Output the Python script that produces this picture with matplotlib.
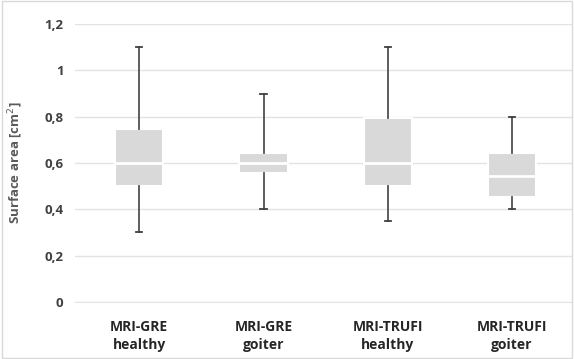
import matplotlib.pyplot as plt

plt.rcParams['font.family'] = ['Open Sans', 'DejaVu Sans']

labels = ["MRI-GRE\nhealthy", "MRI-GRE\ngoiter", "MRI-TRUFI\nhealthy", "MRI-TRUFI\ngoiter"]
whisker_low = [0.30, 0.40, 0.35, 0.40]
q1 = [0.50, 0.555, 0.50, 0.455]
median = [0.60, 0.60, 0.60, 0.545]
q3 = [0.745, 0.645, 0.795, 0.645]
whisker_high = [1.10, 0.90, 1.10, 0.80]

stats = []
for i in range(len(labels)):
    stats.append(dict(whislo=whisker_low[i], q1=q1[i], med=median[i],
                      q3=q3[i], whishi=whisker_high[i], label=labels[i]))

fig = plt.figure(figsize=(5.74, 3.59), dpi=100)
fig.patches.append(plt.Rectangle((0.004, 0.004), 0.992, 0.992, transform=fig.transFigure,
                                 fill=False, edgecolor="#d9d9d9", linewidth=1))
ax = fig.add_axes([0.13, 0.159, 0.866, 0.774])

ax.bxp(stats, positions=range(4), widths=0.39, patch_artist=True, showfliers=False,
       boxprops=dict(facecolor="#d9d9d9", edgecolor="white", linewidth=1.5),
       medianprops=dict(color="white", linewidth=2),
       whiskerprops=dict(color="#505050", linewidth=1.3),
       capprops=dict(color="#404040", linewidth=1.3), capwidths=0.05)

ax.set_xlim(-0.52, 3.48)
ax.set_ylim(0, 1.2)
ax.set_yticks([0, 0.2, 0.4, 0.6, 0.8, 1.0, 1.2])
ax.set_yticklabels(["0", "0,2", "0,4", "0,6", "0,8", "1", "1,2"])
ax.grid(axis="y", color="#e3e3e3", linewidth=1)
ax.set_axisbelow(True)
for s in ["top", "right", "left"]:
    ax.spines[s].set_visible(False)
ax.spines["bottom"].set_color("#e3e3e3")
ax.tick_params(axis="y", length=0, labelcolor="#404040", labelsize=9.5, pad=8)
ax.tick_params(axis="x", length=0, labelcolor="#262626", labelsize=10, pad=13)
for t in ax.get_xticklabels() + ax.get_yticklabels():
    t.set_fontweight("bold")
    t.set_linespacing(1.4)
ax.set_ylabel("Surface area [cm$^2$]", fontsize=9.5, fontweight="bold", color="#595959", labelpad=14)

fig.savefig("out.png", dpi=100)
